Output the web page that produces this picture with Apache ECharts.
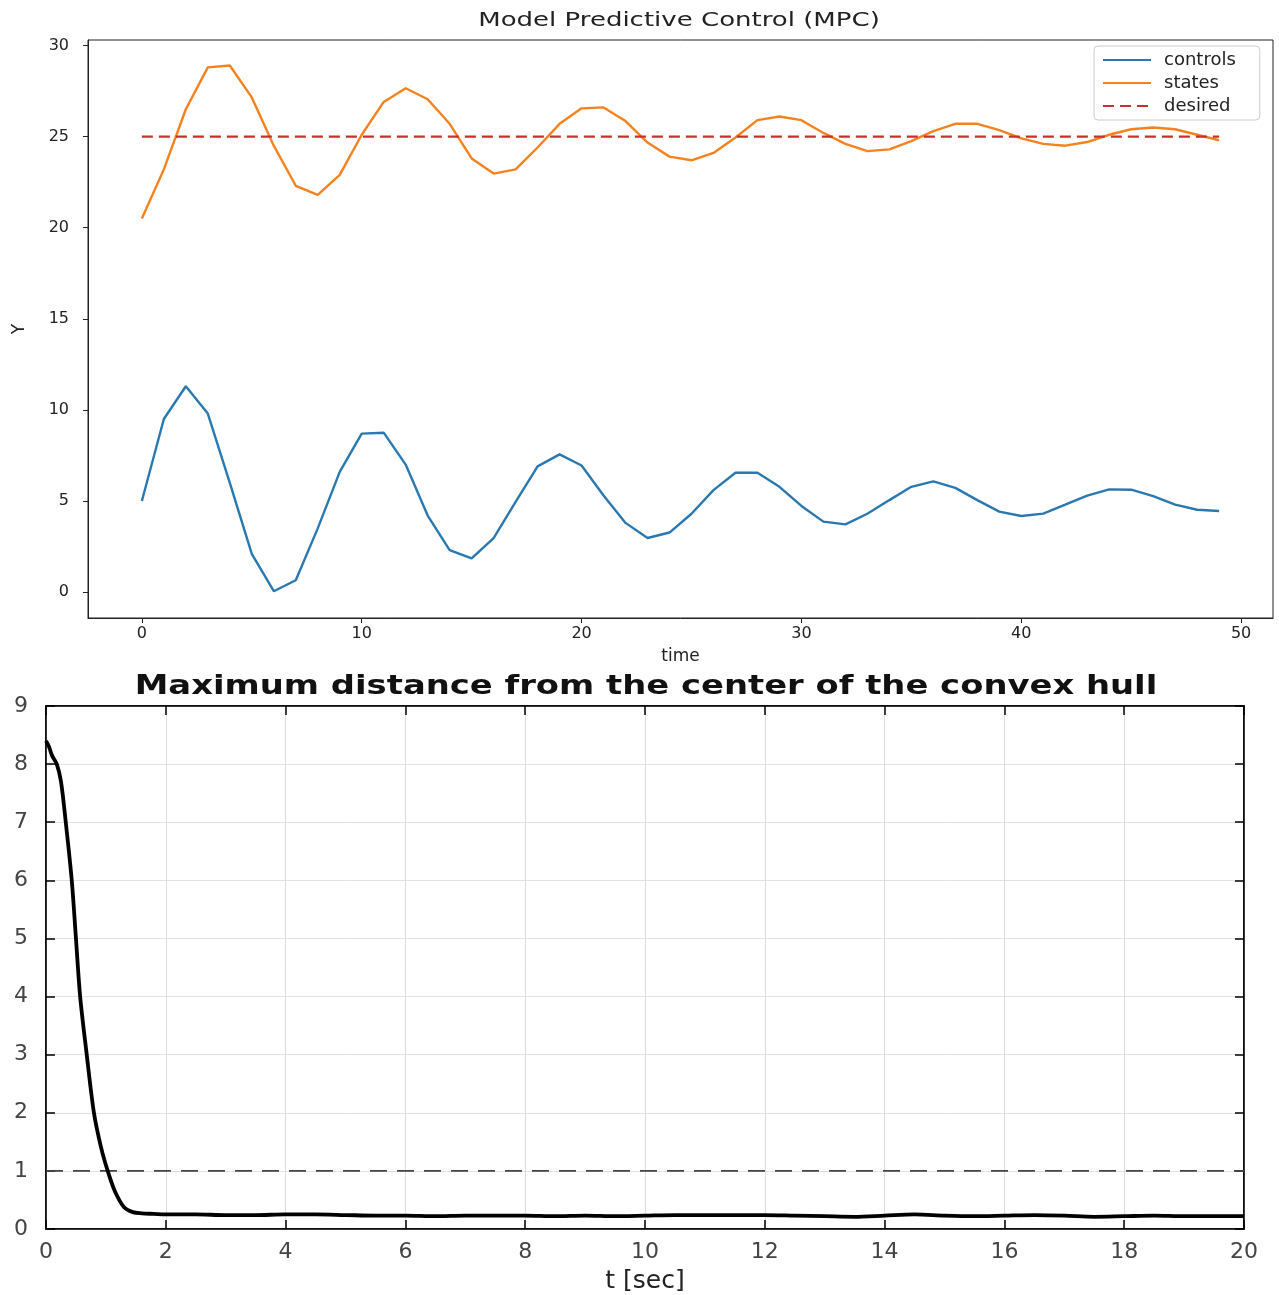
<!DOCTYPE html>
<html>
<head>
<meta charset="utf-8">
<script src="https://cdn.jsdelivr.net/npm/echarts@6/dist/echarts.min.js"></script>
<style>html,body{margin:0;padding:0;background:#fff}#c{width:1279px;height:1295px}</style>
</head>
<body>
<div id="c"></div>
<script>
// ---- Top chart data (MPC) ----
const steps = [0,1,2,3,4,5,6,7,8,9,10,11,12,13,14,15,16,17,18,19,20,21,22,23,24,25,26,27,28,29,30,31,32,33,34,35,36,37,38,39,40,41,42,43,44,45,46,47,48,49];
const controls = [5.0,9.5,11.3,9.8,6.0,2.1,0.05,0.65,3.5,6.6,8.7,8.75,7.0,4.2,2.3,1.85,2.97,4.95,6.9,7.56,6.95,5.3,3.8,2.97,3.27,4.3,5.6,6.55,6.55,5.78,4.73,3.87,3.72,4.3,5.05,5.78,6.08,5.72,5.05,4.42,4.18,4.31,4.8,5.3,5.64,5.62,5.27,4.8,4.52,4.45];
const states = [20.5,23.2,26.5,28.8,28.9,27.15,24.5,22.3,21.8,22.9,25.1,26.9,27.65,27.05,25.7,23.8,22.97,23.2,24.4,25.7,26.55,26.6,25.85,24.67,23.9,23.7,24.1,24.95,25.9,26.1,25.9,25.2,24.6,24.2,24.3,24.75,25.3,25.7,25.7,25.35,24.9,24.6,24.5,24.7,25.1,25.4,25.5,25.4,25.1,24.8];
const desiredT = [0, 49];
const desiredV = [25, 25];
const topXTicks = [0,10,20,30,40,50];
const topYTicks = [0,5,10,15,20,25,30];

// ---- Bottom chart data (max distance) ----
const distT = [0,0.05,0.1,0.18,0.25,0.33,0.43,0.5,0.57,0.68,0.8,0.92,1.03,1.15,1.3,1.45,1.6,1.8,2.0,2.5,3.0,3.5,4.0,4.5,5.0,5.5,6.0,6.5,7.0,7.5,8.0,8.5,9.0,9.5,10.0,10.5,11.0,11.5,12.0,12.5,13.0,13.5,14.0,14.5,15.0,15.5,16.0,16.5,17.0,17.5,18.0,18.5,19.0,19.5,20.0];
const distV = [8.4,8.3,8.15,8.0,7.7,7.0,6.0,5.0,4.0,3.0,2.0,1.4,1.0,0.65,0.38,0.29,0.27,0.26,0.25,0.25,0.24,0.24,0.25,0.25,0.24,0.23,0.23,0.22,0.23,0.23,0.23,0.22,0.23,0.22,0.23,0.24,0.24,0.24,0.24,0.23,0.22,0.21,0.23,0.25,0.23,0.22,0.23,0.24,0.23,0.21,0.22,0.23,0.22,0.22,0.22];
const thresholdT = [0, 20];
const thresholdV = [1, 1];

const topTitle = 'Model Predictive Control (MPC)';
const bottomTitle = 'Maximum distance from the center of the convex hull';

const zip = (a, b) => a.map((v, i) => [v, b[i]]);

const chart = echarts.init(document.getElementById('c'), null, {renderer: 'canvas'});
const mpl = 'DejaVu Sans';
const frame = '#222';

const option = {
  animation: false,
  backgroundColor: '#fff',
  graphic: [
    {type: 'text', x: 679, y: 21, scaleX: 1.3, scaleY: 1,
     style: {text: topTitle, font: 'normal 20px "DejaVu Sans"', fill: '#222', align: 'center', verticalAlign: 'middle'}},
    {type: 'text', x: 646, y: 687, scaleX: 1.3, scaleY: 1,
     style: {text: bottomTitle, font: 'bold 26px "DejaVu Sans"', fill: '#111', align: 'center', verticalAlign: 'middle'}}
  ],
  legend: {
    data: ['controls', 'states', 'desired'],
    orient: 'vertical', left: 1094, top: 46,
    padding: [5, 24, 5, 8], itemGap: 5, itemWidth: 48, itemHeight: 14,
    borderColor: '#cccccc', borderWidth: 1, borderRadius: 4,
    backgroundColor: 'rgba(255,255,255,0.85)',
    itemStyle: {opacity: 0},
    textStyle: {fontFamily: mpl, fontSize: 18, color: '#222', padding: [0, 0, 0, 8]}
  },
  grid: [
    {left: 88, top: 40, width: 1185, height: 578, outerBoundsMode: 'none', containLabel: false,
     show: true, borderColor: frame, borderWidth: 1, backgroundColor: 'transparent'},
    {left: 46, top: 706, width: 1198, height: 523, outerBoundsMode: 'none', containLabel: false,
     show: true, borderColor: '#000', borderWidth: 1.5, backgroundColor: 'transparent'}
  ],
  xAxis: [
    {type: 'value', gridIndex: 0, min: -2.45, max: 51.45, name: 'time', nameLocation: 'middle', nameGap: 30,
     nameTextStyle: {fontFamily: mpl, fontSize: 17, color: '#222'},
     axisLine: {show: true, onZero: false, lineStyle: {color: frame}},
     axisTick: {show: true, length: 5, customValues: topXTicks, lineStyle: {color: frame}},
     axisLabel: {customValues: topXTicks, fontFamily: mpl, fontSize: 16, color: '#222', margin: 8},
     splitLine: {show: false}},
    {type: 'value', gridIndex: 1, min: 0, max: 20, interval: 2, name: 't [sec]', nameLocation: 'middle', nameGap: 40,
     nameTextStyle: {fontFamily: mpl, fontSize: 25, color: '#222'},
     axisLine: {show: true, onZero: false, lineStyle: {color: '#000', width: 1.5}},
     axisTick: {show: true, inside: true, length: 9, lineStyle: {color: '#000', width: 1.5}},
     axisLabel: {fontFamily: mpl, fontSize: 22, color: '#444', margin: 12},
     splitLine: {show: true, lineStyle: {color: '#dcdcdc', width: 1}}},
    {type: 'value', gridIndex: 1, position: 'top', min: 0, max: 20, interval: 2,
     axisLine: {show: true, onZero: false, lineStyle: {color: '#000', width: 1.5}},
     axisTick: {show: true, inside: true, length: 9, lineStyle: {color: '#000', width: 1.5}},
     axisLabel: {show: false}, splitLine: {show: false}}
  ],
  yAxis: [
    {type: 'value', gridIndex: 0, min: -1.42, max: 30.3, name: 'Y', nameLocation: 'middle', nameGap: 60, nameRotate: 90,
     nameTextStyle: {fontFamily: mpl, fontSize: 17, color: '#222'},
     axisLine: {show: true, onZero: false, lineStyle: {color: frame}},
     axisTick: {show: true, length: 5, customValues: topYTicks, lineStyle: {color: frame}},
     axisLabel: {customValues: topYTicks, fontFamily: mpl, fontSize: 16, color: '#222', margin: 19},
     splitLine: {show: false}},
    {type: 'value', gridIndex: 1, min: 0, max: 9, interval: 1,
     axisLine: {show: true, onZero: false, lineStyle: {color: '#000', width: 1.5}},
     axisTick: {show: true, inside: true, length: 9, lineStyle: {color: '#000', width: 1.5}},
     axisLabel: {fontFamily: mpl, fontSize: 22, color: '#444', margin: 18},
     splitLine: {show: true, lineStyle: {color: '#e2e2e2', width: 1}}},
    {type: 'value', gridIndex: 1, position: 'right', min: 0, max: 9, interval: 1,
     axisLine: {show: true, onZero: false, lineStyle: {color: '#000', width: 1.5}},
     axisTick: {show: true, inside: true, length: 9, lineStyle: {color: '#000', width: 1.5}},
     axisLabel: {show: false}, splitLine: {show: false}}
  ],
  series: [
    {name: 'controls', type: 'line', xAxisIndex: 0, yAxisIndex: 0, data: zip(steps, controls),
     symbol: 'none', lineStyle: {color: '#2a78b0', width: 2.4}, itemStyle: {color: '#2a78b0'}},
    {name: 'states', type: 'line', xAxisIndex: 0, yAxisIndex: 0, data: zip(steps, states),
     symbol: 'none', lineStyle: {color: '#f5821f', width: 2.4}, itemStyle: {color: '#f5821f'}},
    {name: 'desired', type: 'line', xAxisIndex: 0, yAxisIndex: 0, data: zip(desiredT, desiredV),
     symbol: 'none', lineStyle: {color: '#c9302c', width: 2.2, type: [11, 6]}, itemStyle: {color: '#c9302c'}},
    {name: 'threshold', type: 'line', xAxisIndex: 1, yAxisIndex: 1, data: zip(thresholdT, thresholdV),
     symbol: 'none', lineStyle: {color: '#444', width: 1.6, type: [17, 10]}},
    {name: 'maxdist', type: 'line', xAxisIndex: 1, yAxisIndex: 1, data: zip(distT, distV),
     symbol: 'none', smooth: 0.3, lineStyle: {color: '#000', width: 3.8}}
  ]
};
chart.setOption(option);
</script>
</body>
</html>
